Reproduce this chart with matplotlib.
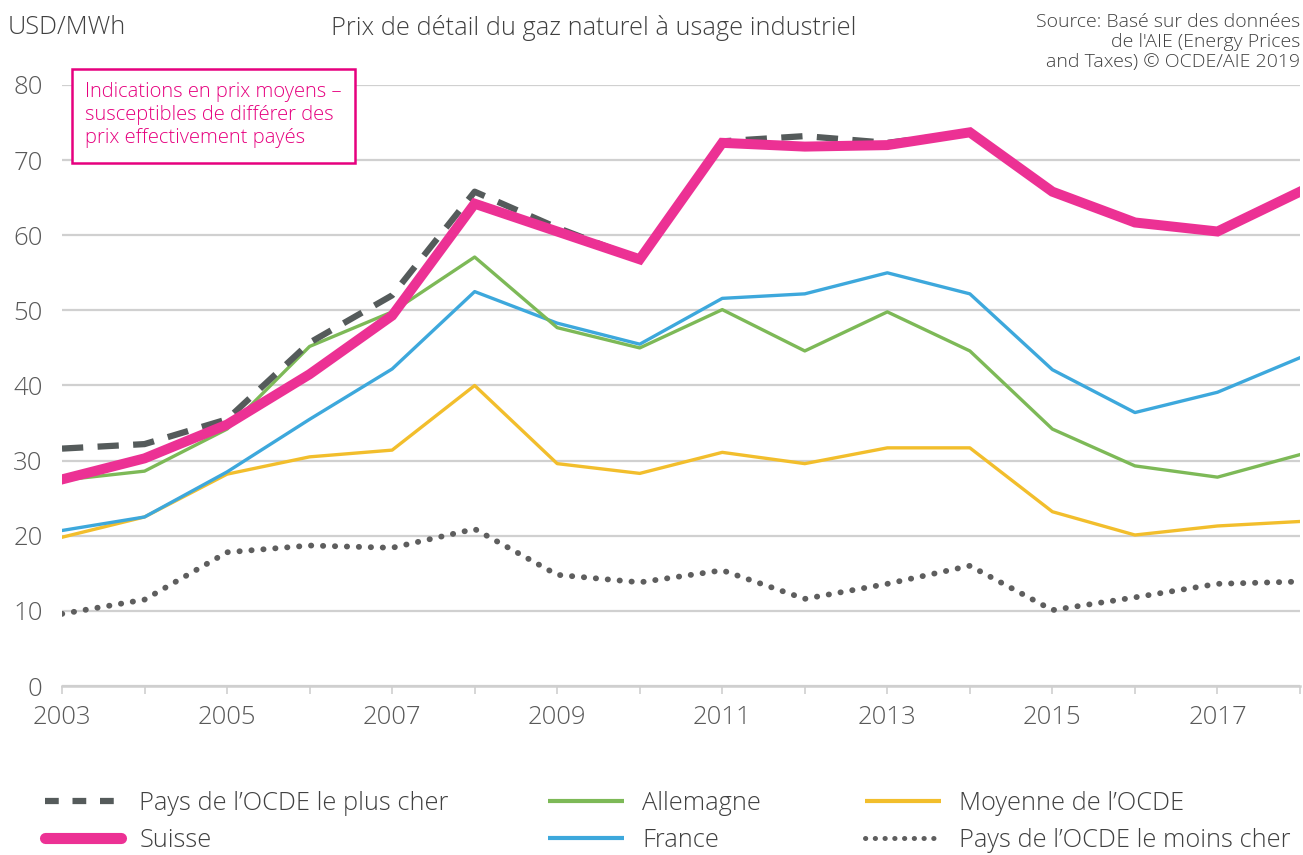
import matplotlib
matplotlib.use("Agg")
import matplotlib.pyplot as plt
from matplotlib.lines import Line2D
from matplotlib.patches import Rectangle

years = list(range(2003, 2019))
plus_cher = [31.6, 32.2, 35.5, 45.7, 52.0, 65.8, 61.0, 56.8, 72.5, 73.2, 72.3, 73.7, 65.8, 61.7, 60.5, 65.8]
suisse = [27.5, 30.3, 34.8, 41.5, 49.3, 64.2, 60.5, 56.8, 72.3, 71.8, 72.0, 73.7, 65.8, 61.7, 60.5, 65.8]
allemagne = [27.4, 28.6, 34.2, 45.2, 49.8, 57.1, 47.7, 45.0, 50.1, 44.6, 49.8, 44.6, 34.2, 29.3, 27.8, 30.8]
france = [20.7, 22.5, 28.5, 35.5, 42.2, 52.5, 48.3, 45.5, 51.6, 52.2, 55.0, 52.2, 42.1, 36.4, 39.1, 43.7]
moyenne = [19.8, 22.5, 28.2, 30.5, 31.4, 40.0, 29.6, 28.3, 31.1, 29.6, 31.7, 31.7, 23.2, 20.1, 21.3, 21.9]
moins_cher = [9.6, 11.5, 17.8, 18.7, 18.4, 20.9, 14.8, 13.8, 15.4, 11.6, 13.6, 16.0, 10.1, 11.8, 13.6, 13.9]

yticks = [0, 10, 20, 30, 40, 50, 60, 70, 80]
xlabels = [2003, 2005, 2007, 2009, 2011, 2013, 2015, 2017]

FONT = ["Open Sans", "DejaVu Sans"]
plt.rcParams["font.family"] = FONT
plt.rcParams["font.weight"] = "light"
TXT = "#404040"
TICKC = "#595959"

C_PINK = "#EC3194"
C_DASH = "#555B5B"
C_GREEN = "#7DB957"
C_BLUE = "#3DA8DC"
C_YELLOW = "#F2BE2C"
C_DOT = "#5E5E5E"

fig = plt.figure(figsize=(13.03, 8.55), dpi=100)
ax = fig.add_axes([62/1303, (855-686)/855, (1300-62)/1303, (686-85)/855])

ax.plot(years, moins_cher, color=C_DOT, lw=4.2, linestyle=(0, (0.05, 2.0)), dash_capstyle="round", solid_capstyle="round", zorder=3)
ax.plot(years, moyenne, color=C_YELLOW, lw=2.4, zorder=4)
ax.plot(years, france, color=C_BLUE, lw=2.4, zorder=5)
ax.plot(years, allemagne, color=C_GREEN, lw=2.4, zorder=6)
ax.plot(years, plus_cher, color=C_DASH, lw=4.5, linestyle=(0, (3.4, 2.3)), zorder=7)
ax.plot(years, suisse, color=C_PINK, lw=7.2, zorder=8, solid_joinstyle="miter")

ax.set_xlim(2003, 2018)
ax.set_ylim(0, 80)
ax.set_yticks(yticks)
ax.set_xticks(years, minor=True)
ax.set_xticks(xlabels)
ax.set_xticklabels([str(v) for v in xlabels])
ax.grid(axis="y", color="#D0D0D0", lw=1.6, zorder=0)
ax.set_axisbelow(True)
for s in ["top", "right", "left"]:
    ax.spines[s].set_visible(False)
ax.spines["bottom"].set_color("#CFCFCF")
ax.spines["bottom"].set_linewidth(1.8)
ax.tick_params(axis="y", length=0, pad=14, labelsize=18.5, labelcolor=TICKC)
ax.tick_params(axis="x", which="both", length=6, width=1.2, color="#CFCFCF", direction="out", pad=8, labelsize=18.5, labelcolor=TICKC)
ax.tick_params(axis="x", which="minor", length=6)

fig.text(8/1303, 1-28/855, "USD/MWh", fontsize=18.3, color=TXT, ha="left", va="center")
fig.text(594/1303, 1-28/855, "Prix de détail du gaz naturel à usage industriel", fontsize=18.3, color=TXT, ha="center", va="center")
fig.text(1300/1303, 1-42/855, "Source: Basé sur des données\nde l'AIE (Energy Prices\nand Taxes) © OCDE/AIE 2019",
         fontsize=14, color=TXT, ha="right", va="center", linespacing=1.12)

rect = Rectangle((72/1303, 1-163/855), (355-72)/1303, (163-69)/855, transform=fig.transFigure,
                 fill=True, facecolor="white", edgecolor="#E6007E", lw=1.8, zorder=10)
fig.patches.append(rect)
fig.text(85/1303, 1-115/855, "Indications en prix moyens –\nsusceptibles de différer des\nprix effectivement payés",
         fontsize=14.5, color="#E6007E", ha="left", va="center", linespacing=1.2, zorder=11)

def h(color, lw, ls="-", cap="butt"):
    return Line2D([], [], color=color, lw=lw, linestyle=ls, dash_capstyle=cap, solid_capstyle=cap)

groups = [
    (45, [h(C_DASH, 4.5, (0, (2.2, 2.2))), h(C_PINK, 8, "-", "round")], ["Pays de l’OCDE le plus cher", "Suisse"]),
    (548, [h(C_GREEN, 3), h(C_BLUE, 3)], ["Allemagne", "France"]),
    (865, [h(C_YELLOW, 3), h(C_DOT, 3.6, (0, (0.05, 1.9)), "round")], ["Moyenne de l’OCDE", "Pays de l’OCDE le moins cher"]),
]
for x0, hs, labs in groups:
    leg = fig.legend(hs, labs, loc="upper left", bbox_to_anchor=(x0/1303 - 0.008, 1-781/855), frameon=False,
                     fontsize=18.3, handlelength=3.0, handletextpad=0.72, labelspacing=0.45, borderaxespad=0)
    for t in leg.get_texts():
        t.set_color(TXT)

fig.savefig("out.png", dpi=100)
